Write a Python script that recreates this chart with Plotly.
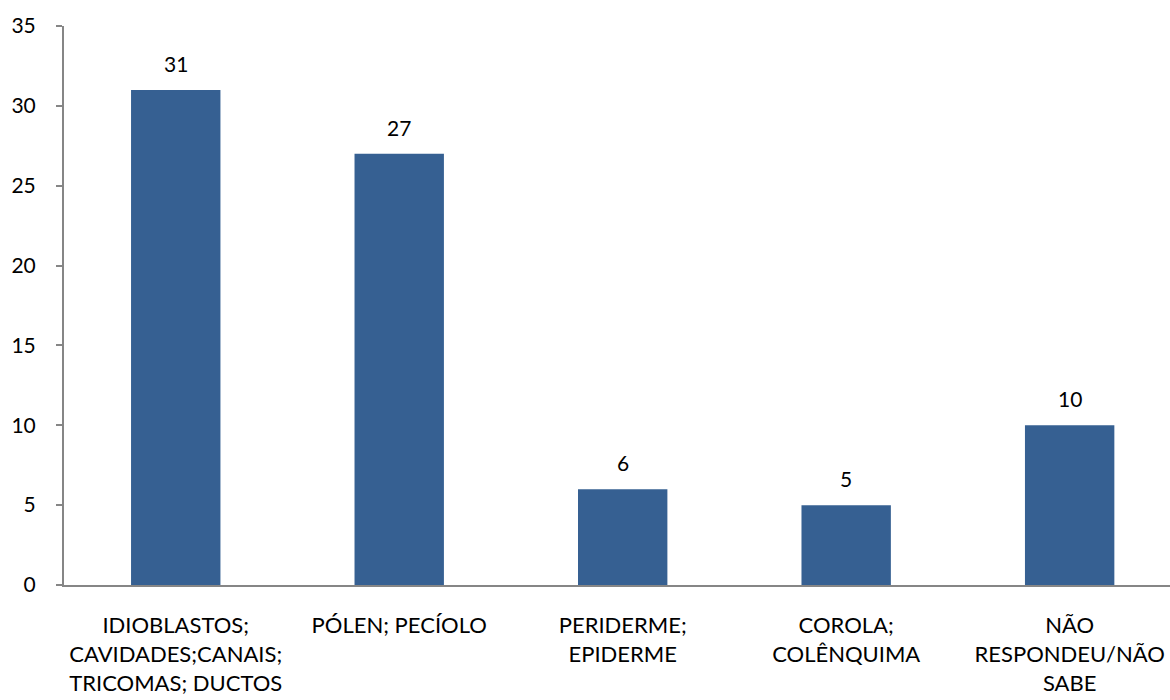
import plotly.graph_objects as go

categories = [
    "IDIOBLASTOS;<br>CAVIDADES;CANAIS;<br>TRICOMAS; DUCTOS",
    "PÓLEN; PECÍOLO",
    "PERIDERME;<br>EPIDERME",
    "COROLA;<br>COLÊNQUIMA",
    "NÃO<br>RESPONDEU/NÃO<br>SABE",
]
values = [31, 27, 6, 5, 10]
y_ticks = [0, 5, 10, 15, 20, 25, 30, 35]

FONT = "Lato, 'Open Sans', sans-serif"
BAR = "#366092"
AXIS = "#868686"

fig = go.Figure()
fig.add_trace(go.Bar(
    x=list(range(len(categories))),
    y=values,
    width=0.40,
    marker=dict(color=BAR, line=dict(width=0)),
    hoverinfo="skip",
))

for i, v in enumerate(values):
    fig.add_annotation(
        x=i, y=v, text=str(v), showarrow=False,
        yanchor="bottom", yshift=12,
        font=dict(family=FONT, size=21, color="#000000"),
    )

fig.update_layout(
    width=1170, height=700,
    margin=dict(l=64, r=0, t=26, b=115),
    paper_bgcolor="white", plot_bgcolor="white",
    showlegend=False,
    font=dict(family=FONT, size=22, color="#000000"),
    bargap=0.6,
)
fig.update_xaxes(
    range=[-0.5, 4.449],
    tickmode="array",
    tickvals=list(range(len(categories))),
    ticktext=categories,
    showline=True, linecolor=AXIS, linewidth=2,
    ticks="", showgrid=False, zeroline=False,
    tickfont=dict(family=FONT, size=22, color="#000000"),
    ticklabelstandoff=20,
)
fig.update_yaxes(
    range=[0, 35],
    tickmode="array",
    tickvals=y_ticks,
    ticktext=[str(t) for t in y_ticks],
    showline=True, linecolor=AXIS, linewidth=2,
    ticks="outside", ticklen=6, tickcolor=AXIS, tickwidth=2,
    showgrid=False, zeroline=False,
    tickfont=dict(family=FONT, size=21, color="#000000"),
    ticklabelstandoff=16,
)

fig.write_html("out.html")
